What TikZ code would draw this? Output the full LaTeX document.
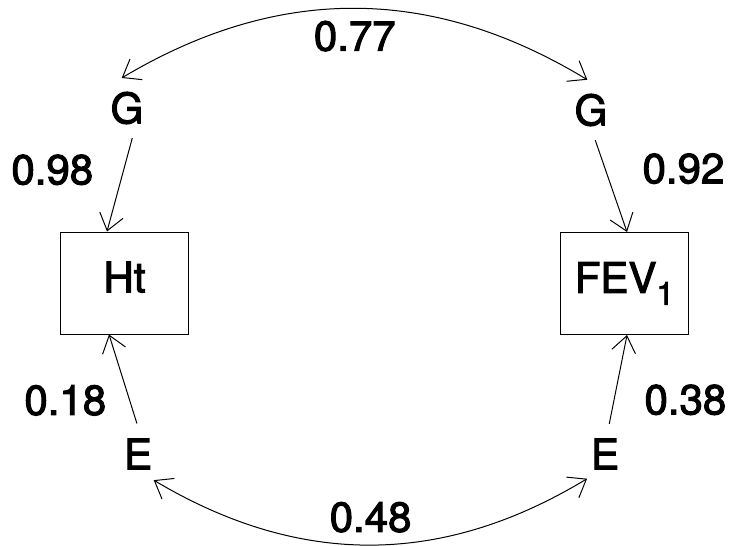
\documentclass[tikz,border=0pt]{standalone}
\usepackage{fontspec}
\setmainfont{TeX Gyre Heros}[FakeBold=2.5]
\usetikzlibrary{arrows.meta}

\begin{document}
\begin{tikzpicture}[x=0.5pt, y=-0.5pt, line width=0.5pt, >={Straight Barb[length=8pt,width=12pt]},
            font=\fontsize{21}{25}\selectfont,
            box/.style = {draw, rectangle, minimum width=64pt, minimum height=51pt, inner sep=0pt, text depth=6pt},
            var/.style = {circle, minimum size=30pt, inner sep=0pt},
            wt/.style = {inner sep=0pt}]
            \useasboundingbox (0,0) rectangle (731,545);
            \node[box] (ht) at (124.5,283) {Ht};
            \node[box] (fev) at (624.5,283.5) {FEV\raisebox{-6pt}{\fontsize{16}{16}\selectfont 1}};
            \node[var] (g1) at (127,108) {G};
            \node[var] (g2) at (591,110) {G};
            \node[var] (e1) at (138,454) {E};
            \node[var] (e2) at (605,454) {E};
            \draw[->] (g1.-80) -- node[wt, pos=0.34, left=15pt] {0.98} ([xshift=-8.75pt]ht.north);
            \draw[->] (g2.-82) -- node[wt, pos=0.31, right=18.5pt] {0.92} ([xshift=1.25pt]fev.north);
            \draw[->] (e1.92) -- node[wt, pos=0.26, left=11.5pt] {0.18} ([xshift=-7.75pt]ht.south);
            \draw[->] (e2.82) -- node[wt, pos=0.27, right=15pt] {0.38} ([xshift=1.25pt]fev.south);
            \draw[<->] (g1.100) to[bend left=31] node[wt, midway, below=6pt] {0.77} (g2.97);
            \draw[<->] (e1.-59) to[bend right=31] node[wt, midway, above=6pt] {0.48} (e2.234);
            \end{tikzpicture}
\end{document}
